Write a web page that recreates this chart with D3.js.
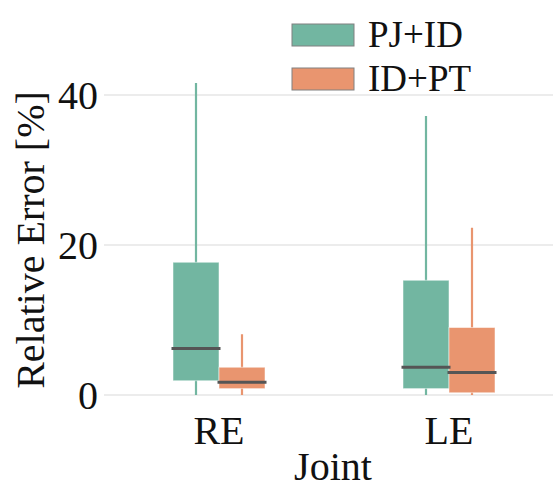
<!DOCTYPE html>
<html>
<head>
<meta charset="utf-8">
<script src="https://cdn.jsdelivr.net/npm/d3@7"></script>
<style>
  html, body { margin: 0; padding: 0; background: #fff; }
  svg { display: block; }
</style>
</head>
<body>
<div id="chart"></div>
<script>
// ---- data ----
const joints = ['RE', 'LE'];
const series = ['PJ+ID', 'ID+PT'];
const colors = ['#72b6a1', '#e9956f'];
// per series, per joint: [whiskerLow, q1, median, q3, whiskerHigh]
const pjId = [[0, 1.9, 6.2, 17.7, 41.6], [0, 0.85, 3.7, 15.3, 37.2]];
const idPt = [[0, 0.85, 1.7, 3.7, 8.1], [0, 0.3, 3.0, 9.0, 22.3]];
const yTicks = [0, 20, 40];

const FONT = "'Liberation Serif', 'Times New Roman', Times, serif";
const W = 553, H = 491;
const svg = d3.select('#chart').append('svg').attr('width', W).attr('height', H)
  .attr('font-family', FONT).attr('fill', '#111');

const x = d3.scaleBand().domain(joints).range([104, 564]).padding(0);
const y = d3.scaleLinear().domain([0, 40]).range([395, 95]);
const hue = d3.scaleBand().domain(series).range([-0.2, 0.2]).padding(0);

// grid
svg.append('g').selectAll('line').data(yTicks).join('line')
  .attr('x1', 104).attr('x2', W)
  .attr('y1', d => y(d)).attr('y2', d => y(d))
  .attr('stroke', '#e6e6e6').attr('stroke-width', 1.5);

// y tick labels
svg.append('g').selectAll('text').data(yTicks).join('text')
  .attr('x', 98).attr('y', d => y(d)).attr('dy', '0.35em')
  .attr('text-anchor', 'end').attr('font-size', 40).text(d => d);

// x tick labels
svg.append('g').selectAll('text').data(joints).join('text')
  .attr('x', d => x(d) + x.bandwidth() / 2).attr('y', 444)
  .attr('text-anchor', 'middle').attr('font-size', 40).text(d => d);

// axis titles
svg.append('text').attr('x', 333).attr('y', 480).attr('text-anchor', 'middle')
  .attr('font-size', 40).text('Joint');
svg.append('text').attr('transform', 'translate(44,240) rotate(-90)')
  .attr('text-anchor', 'middle').attr('font-size', 40).text('Relative Error [%]');

// boxes
const boxes = [];
[pjId, idPt].forEach((vals, si) => {
  joints.forEach((j, ji) => {
    boxes.push({ s: series[si], color: colors[si], j, v: vals[ji] });
  });
});
const bw = hue.bandwidth() * x.bandwidth();
const cx = d => x(d.j) + x.bandwidth() / 2 + (hue(d.s) + hue.bandwidth() / 2) * x.bandwidth();

const g = svg.append('g');
g.selectAll('line.whisk').data(boxes).join('line').attr('class', 'whisk')
  .attr('x1', cx).attr('x2', cx)
  .attr('y1', d => y(d.v[0])).attr('y2', d => y(d.v[4]))
  .attr('stroke', d => d.color).attr('stroke-width', 2.2);
g.selectAll('rect').data(boxes).join('rect')
  .attr('x', d => cx(d) - bw / 2).attr('width', bw)
  .attr('y', d => y(d.v[3])).attr('height', d => y(d.v[1]) - y(d.v[3]))
  .attr('fill', d => d.color).attr('stroke', 'rgba(255,255,255,0.5)').attr('stroke-width', 1);
g.selectAll('line.med').data(boxes).join('line').attr('class', 'med')
  .attr('x1', d => cx(d) - bw / 2 - 1.5).attr('x2', d => cx(d) + bw / 2 + 1.5)
  .attr('y1', d => y(d.v[2])).attr('y2', d => y(d.v[2]))
  .attr('stroke', '#555').attr('stroke-width', 3);

// legend
const lg = svg.append('g').selectAll('g').data(series).join('g')
  .attr('transform', (d, i) => `translate(292,${24 + i * 44})`);
lg.append('rect').attr('width', 62).attr('height', 22)
  .attr('fill', (d, i) => colors[i]).attr('stroke', '#808080').attr('stroke-width', 1);
lg.append('text').attr('x', 76).attr('y', 22.5).attr('font-size', 37).text(d => d);
</script>
</body>
</html>
